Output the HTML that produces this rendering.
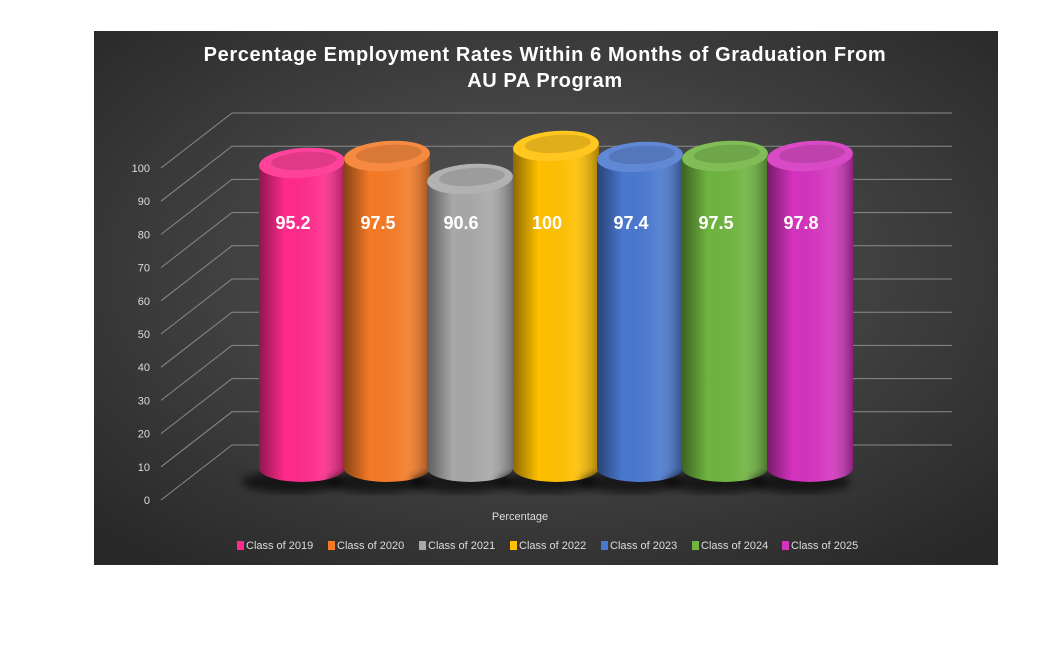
<!DOCTYPE html>
<html><head><meta charset="utf-8"><style>
body{margin:0;background:#fff;width:1052px;height:644px;overflow:hidden;font-family:"Liberation Sans",sans-serif}
</style></head><body>
<svg width="1052" height="644" viewBox="0 0 1052 644" xmlns="http://www.w3.org/2000/svg" font-family="Liberation Sans, sans-serif">
<defs>
<radialGradient id="bg" cx="0.5" cy="0.45" r="0.7">
<stop offset="0" stop-color="#5a5a5a"/><stop offset="1" stop-color="#282828"/></radialGradient>
<linearGradient id="sh" x1="0" x2="1"><stop offset="0" stop-color="#000" stop-opacity="0.45"/><stop offset="0.3" stop-color="#000" stop-opacity="0"/><stop offset="0.7" stop-color="#fff" stop-opacity="0.08"/><stop offset="1" stop-color="#000" stop-opacity="0.35"/></linearGradient>
<filter id="bl"><feGaussianBlur stdDeviation="4"/></filter>
</defs>
<rect x="94" y="31" width="904" height="534" fill="url(#bg)"/>
<text x="545" y="61" fill="#fff" font-size="20" font-weight="bold" text-anchor="middle" letter-spacing="0.6">Percentage Employment Rates Within 6 Months of Graduation From</text>
<text x="545" y="87" fill="#fff" font-size="20" font-weight="bold" text-anchor="middle" letter-spacing="0.6">AU PA Program</text>
<g stroke="#8a8a8a" stroke-width="1" fill="none" id="grid"></g>
<g id="labels" fill="#ddd" font-size="11" text-anchor="end"></g>
<g id="bars"></g>
<text x="520" y="520" fill="#ddd" font-size="11" text-anchor="middle">Percentage</text>
<g id="leg" font-size="11" fill="#ddd"></g>
</svg>
<script>
var ns="http://www.w3.org/2000/svg";
function el(t,a,p){var e=document.createElementNS(ns,t);for(var k in a)e.setAttribute(k,a[k]);document.getElementById(p).appendChild(e);return e;}
for(var i=0;i<=10;i++){var y=500-i*33.2;
el("polyline",{points:"161,"+y+" 232,"+(y-55)+" 952,"+(y-55)},"grid");
var t=el("text",{x:150,y:y+4},"labels");t.textContent=i*10;}
var data=[["95.2","#ff2a8c",148,302],["97.5","#f57a26",141,387],["90.6","#a8a8a8",164,470],["100","#ffc000",131,556],["97.4","#4a78d0",142,640],["97.5","#6fb43f",141,725],["97.8","#d433bf",141,810]];
var names=["2019","2020","2021","2022","2023","2024","2025"];
var lx=[237,328,419,510,601,692,782];
data.forEach(function(d,i){
var cx=d[3],top=d[2]+15,bot=468;
el("ellipse",{cx:cx-10,cy:bot+14,rx:50,ry:11,fill:"#000",opacity:0.6,filter:"url(#bl)"},"bars");
var p="M"+(cx-43)+","+top+" L"+(cx-43)+","+bot+" A43,14 0 0 0 "+(cx+43)+","+bot+" L"+(cx+43)+","+top+" Z";
el("path",{d:p,fill:d[1]},"bars");
el("path",{d:p,fill:"url(#sh)"},"bars");
var g=el("g",{transform:"rotate(-4 "+cx+" "+top+")"},"bars");
g.id="g"+i;
el("ellipse",{cx:cx,cy:top,rx:43,ry:15,fill:d[1]},"g"+i);
el("ellipse",{cx:cx,cy:top,rx:43,ry:15,fill:"#fff",opacity:0.12},"g"+i);
el("ellipse",{cx:cx+2,cy:top-2,rx:33,ry:9,fill:"#000",opacity:0.12},"g"+i);
var t=el("text",{x:cx-9,y:229,fill:"#fff","font-size":18,"font-weight":"bold","text-anchor":"middle"},"bars");t.textContent=d[0];
el("rect",{x:lx[i],y:541,width:7,height:9,fill:d[1]},"leg");
var l=el("text",{x:lx[i]+9,y:549},"leg");l.textContent="Class of "+names[i];
});
</script>
</body></html>
